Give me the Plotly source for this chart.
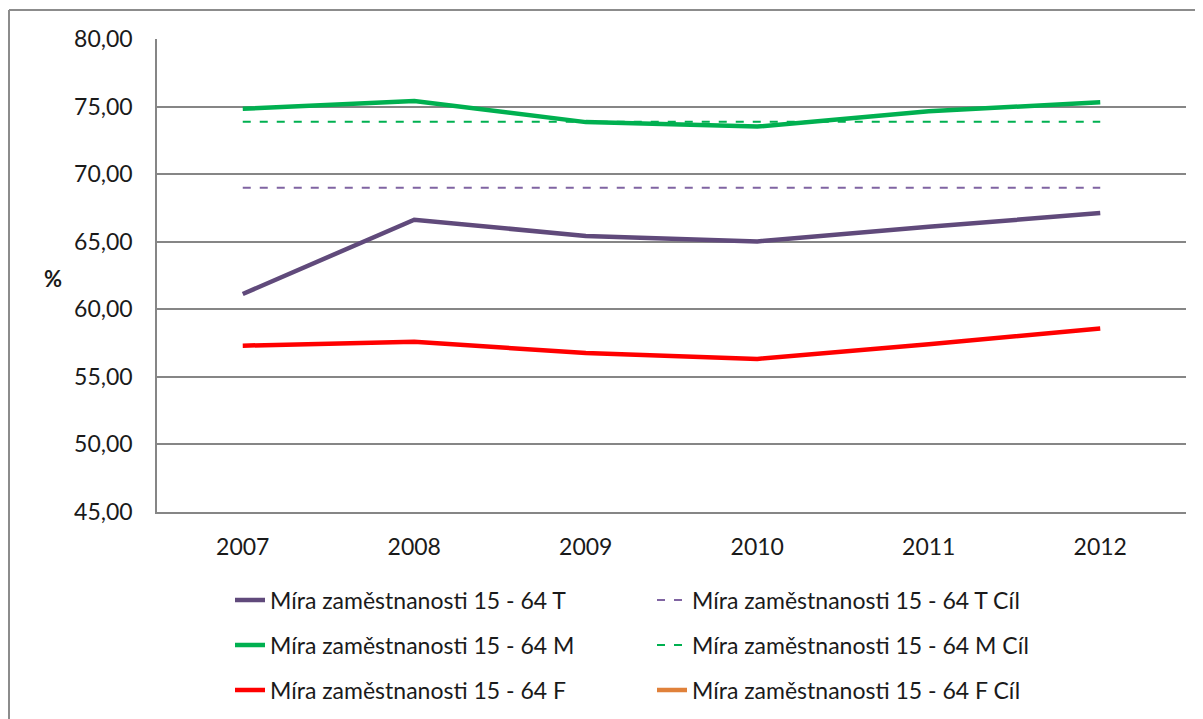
import plotly.graph_objects as go

years = ["2007", "2008", "2009", "2010", "2011", "2012"]
rate_T = [61.13, 66.63, 65.42, 65.02, 66.10, 67.12]
rate_M = [74.83, 75.42, 73.85, 73.52, 74.65, 75.32]
rate_F = [57.31, 57.59, 56.77, 56.33, 57.42, 58.57]
target_T = [69.0, 69.0, 69.0, 69.0, 69.0, 69.0]
target_M = [73.87, 73.87, 73.87, 73.87, 73.87, 73.87]
target_F = [None, None, None, None, None, None]
y_ticks = [45, 50, 55, 60, 65, 70, 75, 80]
y_tick_labels = ["45,00", "50,00", "55,00", "60,00", "65,00", "70,00", "75,00", "80,00"]

names = {
    "T": "Míra zaměstnanosti 15 - 64 T",
    "TC": "Míra zaměstnanosti 15 - 64 T Cíl",
    "M": "Míra zaměstnanosti 15 - 64 M",
    "MC": "Míra zaměstnanosti 15 - 64 M Cíl",
    "F": "Míra zaměstnanosti 15 - 64 F",
    "FC": "Míra zaměstnanosti 15 - 64 F Cíl",
}

FONT = "Lato, 'Open Sans', sans-serif"
FS = 23
TXT = "#1a1a1a"
OFF = 8  # page body margin
W, H = 1187, 711
ML, MR, MT, MB = 149, 9, 31, 207

fig = go.Figure()
fig.add_trace(go.Scatter(x=years, y=rate_T, name=names["T"], mode="lines",
                         line=dict(color="#604A7B", width=4.5), legend="legend"))
fig.add_trace(go.Scatter(x=years, y=target_T, name=names["TC"], mode="lines",
                         line=dict(color="#8064A2", width=2, dash="8px,9px"), legend="legend"))
fig.add_trace(go.Scatter(x=years, y=rate_M, name=names["M"], mode="lines",
                         line=dict(color="#00B050", width=4.5), legend="legend2"))
fig.add_trace(go.Scatter(x=years, y=target_M, name=names["MC"], mode="lines",
                         line=dict(color="#00B050", width=2, dash="8px,9px"), legend="legend2"))
fig.add_trace(go.Scatter(x=years, y=rate_F, name=names["F"], mode="lines",
                         line=dict(color="#FF0000", width=4.5), legend="legend3"))
fig.add_trace(go.Scatter(x=years, y=target_F, name=names["FC"], mode="lines",
                         line=dict(color="#E0813A", width=4.5), legend="legend3"))

pw = W - ML - MR
ph = H - MT - MB

def sx(x):
    return (x - OFF - ML) / pw

def sy(y):
    return 1 - (y - OFF - MT) / ph

leg_common = dict(orientation="h", xref="paper", yref="paper", xanchor="left", yanchor="middle",
                  font=dict(family=FONT, size=FS, color=TXT), entrywidth=377,
                  bgcolor="rgba(0,0,0,0)", borderwidth=0, traceorder="normal")

fig.update_layout(
    width=W, height=H,
    margin=dict(l=ML, r=MR, t=MT, b=MB, autoexpand=False),
    paper_bgcolor="white", plot_bgcolor="white",
    font=dict(family=FONT, size=FS, color=TXT),
    showlegend=True,
    legend=dict(x=sx(230), y=sy(600), **leg_common),
    legend2=dict(x=sx(230), y=sy(645), **leg_common),
    legend3=dict(x=sx(230), y=sy(690), **leg_common),
    xaxis=dict(type="category", range=[-0.5, 5.5], showgrid=False, showline=True,
               linecolor="#868686", linewidth=1.5, ticks="", ticklabelstandoff=14,
               tickfont=dict(family=FONT, size=FS, color=TXT), zeroline=False),
    yaxis=dict(range=[45, 80], tickvals=y_ticks, ticktext=y_tick_labels, showgrid=True,
               gridcolor="#868686", gridwidth=1.5, showline=True, linecolor="#868686",
               linewidth=1.5, ticks="", ticklabelstandoff=18, zeroline=False,
               tickfont=dict(family=FONT, size=FS, color=TXT)),
    annotations=[dict(text="<b>%</b>", xref="paper", yref="paper", x=sx(53), y=sy(278),
                      xanchor="center", yanchor="middle", showarrow=False,
                      font=dict(family=FONT, size=22, color=TXT))],
    shapes=[
        dict(type="line", xref="paper", yref="paper", x0=sx(9), x1=sx(9), y0=sy(10), y1=sy(730),
             line=dict(color="#8c8c8c", width=2)),
        dict(type="line", xref="paper", yref="paper", x0=sx(9), x1=sx(1215), y0=sy(10), y1=sy(10),
             line=dict(color="#8c8c8c", width=2)),
    ],
)

fig.write_html("out.html")
